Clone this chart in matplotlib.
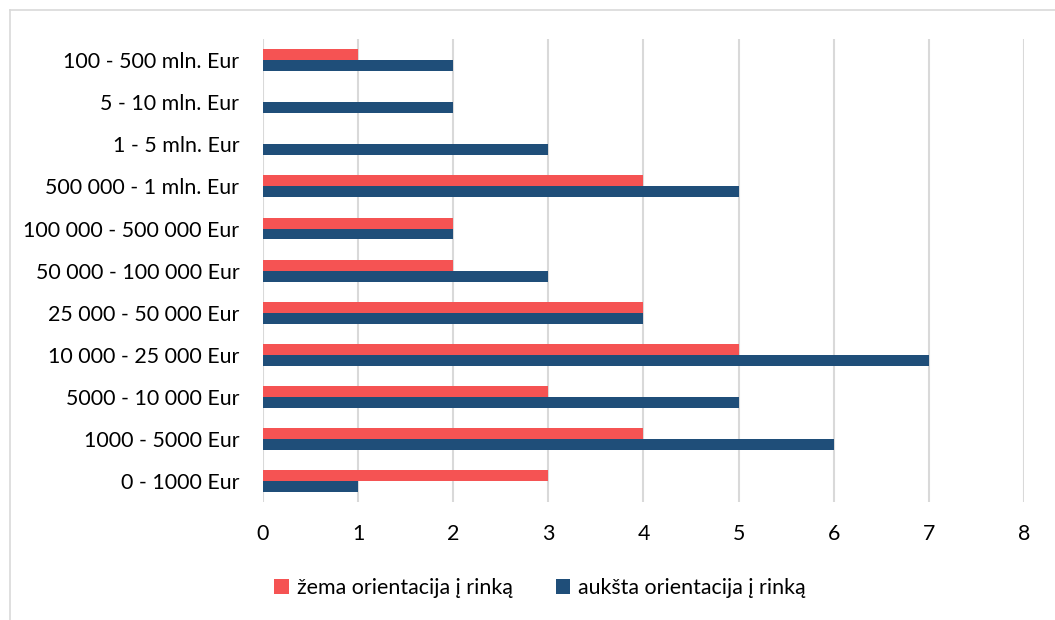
import matplotlib.pyplot as plt
import numpy as np
from matplotlib.lines import Line2D

# Duomenys (iš apačios į viršų)
categories = ["0 - 1000 Eur", "1000 - 5000 Eur", "5000 - 10 000 Eur",
              "10 000 - 25 000 Eur", "25 000 - 50 000 Eur", "50 000 - 100 000 Eur",
              "100 000 - 500 000 Eur", "500 000 - 1 mln. Eur", "1 - 5 mln. Eur",
              "5 - 10 mln. Eur", "100 - 500 mln. Eur"]
low_orientation = [3, 4, 3, 5, 4, 2, 2, 4, 0, 0, 1]
high_orientation = [1, 6, 5, 7, 4, 3, 2, 5, 3, 2, 2]
x_ticks = [0, 1, 2, 3, 4, 5, 6, 7, 8]

plt.rcParams['font.family'] = ['Lato', 'DejaVu Sans']

fig = plt.figure(figsize=(10.55, 6.2), dpi=100)
ax = fig.add_axes([0.2493, 0.190, 0.7213, 0.747])

y = np.arange(len(categories))
h = 0.26
ax.barh(y + h / 2, low_orientation, height=h, color='#F55353',
        label='žema orientacija į rinką', zorder=3)
ax.barh(y - h / 2, high_orientation, height=h, color='#1F4E79',
        label='aukšta orientacija į rinką', zorder=3)

ax.set_xlim(0, 8)
ax.set_ylim(-0.5, len(categories) - 0.5)
ax.set_xticks(x_ticks)
ax.set_yticks(y)
ax.set_yticklabels(categories)
ax.tick_params(axis='both', length=0, labelsize=15.4, colors='black')
ax.tick_params(axis='x', pad=16)
ax.tick_params(axis='y', pad=17)
ax.grid(axis='x', color='#D9D9D9', linewidth=1.5, zorder=0)
for s in ax.spines.values():
    s.set_visible(False)

ax.legend(loc='center', bbox_to_anchor=(0.364, -0.186),
          ncol=2, frameon=False, fontsize=15.4, handlelength=0.7, handleheight=0.7,
          handletextpad=0.35, columnspacing=2.0)

# rėmelis
fig.add_artist(Line2D([10 / 1055, 1], [1 - 10 / 620, 1 - 10 / 620],
                      transform=fig.transFigure, color='#D9D9D9', linewidth=1.2))
fig.add_artist(Line2D([10 / 1055, 10 / 1055], [0, 1 - 10 / 620],
                      transform=fig.transFigure, color='#D9D9D9', linewidth=1.2))

fig.savefig('out.png', dpi=100, facecolor='white')
